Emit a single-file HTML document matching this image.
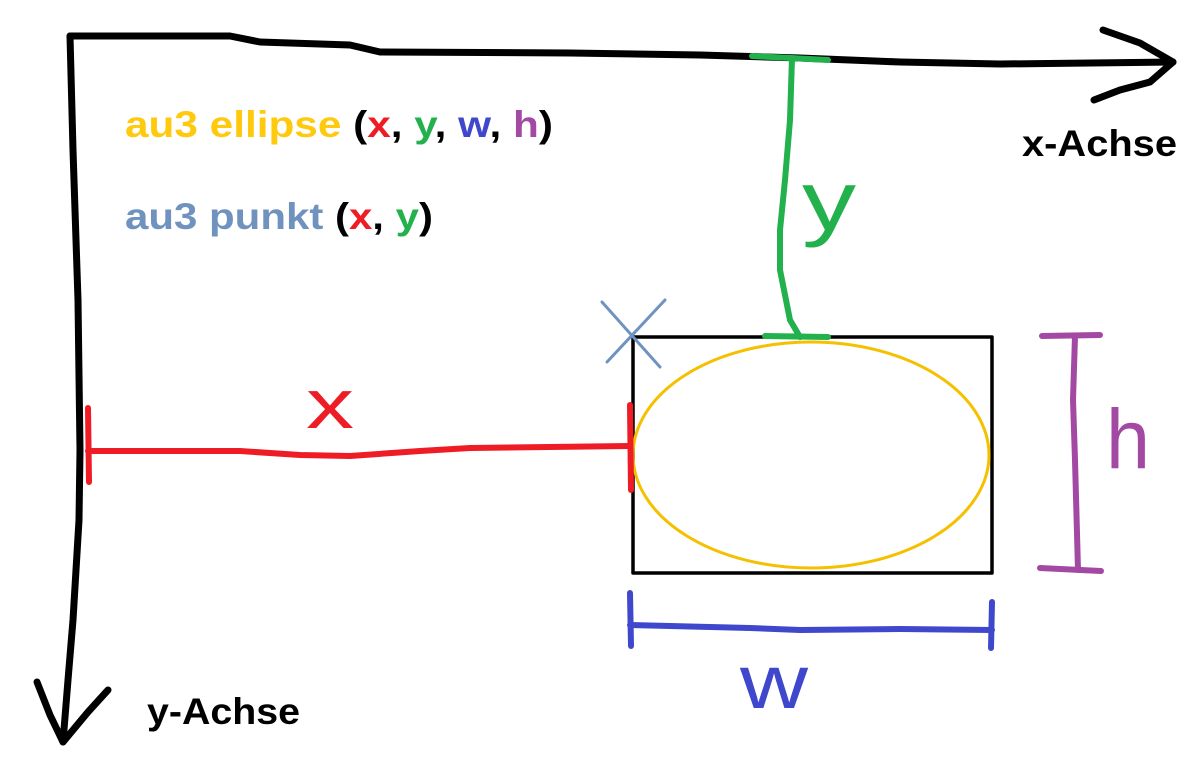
<!DOCTYPE html>
<html><head><meta charset="utf-8"><style>
html,body{margin:0;padding:0;background:#fff;}
svg{display:block;}
text{font-family:"Liberation Sans",sans-serif;font-weight:bold;}
</style></head><body>
<svg width="1184" height="784" viewBox="0 0 1184 784" xmlns="http://www.w3.org/2000/svg">
<g fill="none" stroke-linecap="round" stroke-linejoin="round">
<polyline stroke="#000" stroke-width="7" points="70,36 230,36 260,42 350,45 380,52 570,53 700,55 800,58 900,62 1000,64 1173,62"/>
<polyline stroke="#000" stroke-width="7" points="1103,30 1140,43 1173,62 1150,82 1120,90 1094,100"/>
<polyline stroke="#000" stroke-width="7" points="70,36 73,150 78,300 80,450 79,520 73,620 68,680 63,742"/>
<polyline stroke="#000" stroke-width="7" points="37,682 50,715 63,742 88,712 108,690"/>
<rect x="633" y="337" width="359" height="236" stroke="#000" stroke-width="3.5"/>
<ellipse cx="811" cy="455" rx="178" ry="113" stroke="#f5c000" stroke-width="3"/>
<line x1="602" y1="302" x2="660" y2="367" stroke="#6f93c0" stroke-width="3"/>
<line x1="665" y1="300" x2="607" y2="362" stroke="#6f93c0" stroke-width="3"/>
<polyline stroke="#ee1c24" stroke-width="6" points="88,451 170,451 240,451 300,455 350,456 420,451 470,448 630,446"/>
<line x1="88" y1="408" x2="89" y2="482" stroke="#ee1c24" stroke-width="6"/>
<line x1="630" y1="405" x2="631" y2="490" stroke="#ee1c24" stroke-width="6"/>
<polyline stroke="#22b14c" stroke-width="6" points="792,58 790,120 785,180 780,230 780,270 790,320 800,337"/>
<line x1="752" y1="56" x2="828" y2="60" stroke="#22b14c" stroke-width="6"/>
<line x1="765" y1="336" x2="828" y2="337" stroke="#22b14c" stroke-width="6"/>
<polyline stroke="#a349a4" stroke-width="6" points="1075,336 1073,400 1075,460 1078,570"/>
<line x1="1042" y1="336" x2="1100" y2="335" stroke="#a349a4" stroke-width="6"/>
<line x1="1040" y1="568" x2="1101" y2="571" stroke="#a349a4" stroke-width="6"/>
<polyline stroke="#3f48cc" stroke-width="6" points="630,625 750,628 800,630 900,629 992,630"/>
<line x1="630" y1="593" x2="631" y2="646" stroke="#3f48cc" stroke-width="6"/>
<line x1="992" y1="602" x2="991" y2="648" stroke="#3f48cc" stroke-width="6"/>
</g>
<text x="306" y="428" font-size="70" fill="#ee1c24" style="font-weight:normal" textLength="48" lengthAdjust="spacingAndGlyphs">x</text>
<text x="802" y="230" font-size="84" fill="#22b14c" style="font-weight:normal" textLength="54" lengthAdjust="spacingAndGlyphs">y</text>
<text x="1106" y="468" font-size="84" fill="#a349a4" style="font-weight:normal" textLength="44" lengthAdjust="spacingAndGlyphs">h</text>
<text x="740" y="708" font-size="76" fill="#3f48cc" style="font-weight:normal" textLength="68" lengthAdjust="spacingAndGlyphs">w</text>
<text x="125" y="137" font-size="37" textLength="428" lengthAdjust="spacingAndGlyphs"><tspan fill="#ffc90e">au3 ellipse </tspan><tspan fill="#000">(</tspan><tspan fill="#ee1c24">x</tspan><tspan fill="#000">, </tspan><tspan fill="#22b14c">y</tspan><tspan fill="#000">, </tspan><tspan fill="#3f48cc">w</tspan><tspan fill="#000">, </tspan><tspan fill="#a349a4">h</tspan><tspan fill="#000">)</tspan></text>
<text x="125" y="229" font-size="37" textLength="308" lengthAdjust="spacingAndGlyphs"><tspan fill="#7092be">au3 punkt </tspan><tspan fill="#000">(</tspan><tspan fill="#ee1c24">x</tspan><tspan fill="#000">, </tspan><tspan fill="#22b14c">y</tspan><tspan fill="#000">)</tspan></text>
<text x="1022" y="156" font-size="37" fill="#000" textLength="155" lengthAdjust="spacingAndGlyphs">x-Achse</text>
<text x="147" y="724" font-size="37" fill="#000" textLength="153" lengthAdjust="spacingAndGlyphs">y-Achse</text>
</svg>
</body></html>
